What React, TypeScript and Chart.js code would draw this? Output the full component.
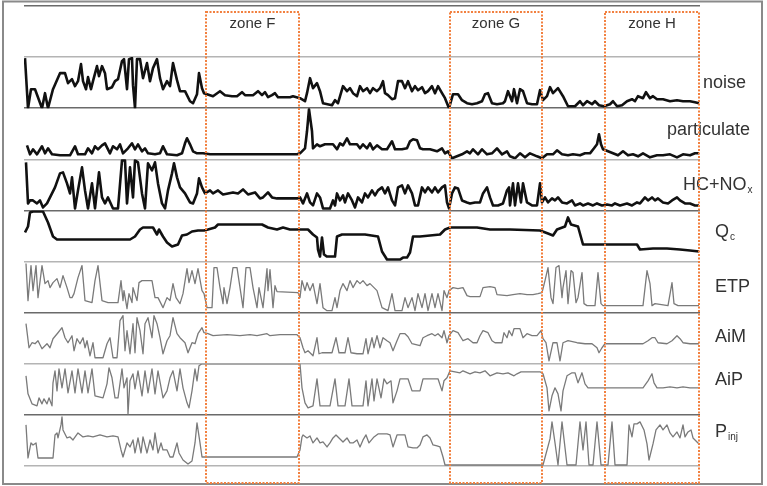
import { useEffect, useRef } from 'react';
import { Chart, registerables } from 'chart.js';

Chart.register(...registerables);

type P = [number, number];

// Row labels (main text + subscript)
const rowMain = ['noise', 'particulate', 'HC+NO', 'Q', 'ETP', 'AiM', 'AiP', 'P'];
const rowSub = ['', '', 'x', 'c', '', '', '', 'inj'];

// Zones along the time axis
const zoneNames = ['zone F', 'zone G', 'zone H'];
const zoneStart = [182, 426, 581];
const zoneEnd = [275, 518, 675];

const X_MAX = 676;
const ROW_MAX = 51;

const noise: P[] = [[1,50],[4,0],[7,19],[11,19],[18,0],[21,15],[24,0],[29,19],[36,35],[41,35],[44,25],[48,29],[51,22],[54,27],[57,44],[59,27],[62,19],[64,31],[67,19],[69,27],[73,42],[75,32],[78,42],[81,35],[83,19],[88,21],[91,27],[94,29],[98,47],[100,49],[103,19],[105,49],[108,50],[109,23],[111,0],[113,49],[116,49],[119,30],[123,45],[126,27],[129,40],[133,49],[136,30],[139,19],[143,27],[146,22],[149,45],[153,28],[156,17],[161,17],[166,7],[169,5],[173,14],[175,35],[178,20],[180,15],[183,14],[189,12],[196,17],[201,13],[208,12],[213,12],[218,16],[221,13],[229,13],[234,17],[238,13],[241,16],[244,11],[248,13],[251,15],[254,11],[266,11],[269,12],[276,10],[281,7],[283,15],[286,30],[289,20],[293,25],[296,17],[299,5],[308,3],[311,8],[314,5],[319,22],[323,17],[326,20],[329,15],[333,12],[336,22],[339,17],[343,20],[346,15],[349,20],[353,17],[356,20],[359,27],[361,15],[364,13],[368,9],[371,10],[374,27],[378,27],[381,20],[384,27],[388,17],[391,22],[394,18],[398,21],[401,15],[404,17],[408,22],[411,15],[414,22],[418,15],[421,10],[425,0],[429,14],[434,14],[438,8],[443,5],[448,4],[453,5],[458,7],[461,14],[464,15],[468,5],[473,4],[479,5],[481,7],[484,17],[488,7],[490,19],[493,5],[496,19],[499,17],[503,5],[508,4],[513,4],[516,18],[519,8],[523,12],[526,21],[529,15],[534,20],[539,12],[544,2],[551,2],[556,7],[559,3],[563,7],[568,4],[571,7],[575,3],[580,2],[586,4],[589,7],[593,2],[598,3],[603,7],[608,9],[611,7],[614,12],[619,10],[622,16],[626,10],[629,12],[633,9],[639,9],[646,7],[653,8],[659,7],[666,7],[671,6],[675,5]];

const particulate: P[] = [[3,14],[6,5],[9,10],[13,5],[18,13],[21,6],[24,11],[28,5],[36,4],[46,4],[51,13],[54,5],[61,5],[64,11],[68,6],[71,13],[74,10],[78,14],[81,16],[86,6],[89,13],[93,10],[96,15],[99,6],[104,11],[108,16],[111,10],[114,15],[118,8],[121,11],[124,6],[131,5],[136,6],[139,13],[143,5],[153,4],[158,6],[161,16],[163,21],[166,15],[169,8],[173,6],[179,6],[186,5],[200,5],[226,5],[259,5],[273,5],[276,6],[281,11],[283,28],[285,50],[288,28],[289,11],[293,15],[296,13],[301,15],[306,15],[309,15],[313,10],[316,16],[319,14],[323,21],[326,15],[333,15],[336,11],[339,15],[343,11],[346,16],[349,10],[353,14],[358,10],[363,10],[368,18],[371,10],[378,10],[383,11],[386,18],[389,20],[393,19],[396,11],[399,10],[406,10],[413,8],[418,11],[421,6],[424,8],[428,1],[433,3],[438,5],[443,8],[446,6],[449,10],[454,5],[458,10],[463,5],[468,6],[473,11],[478,5],[483,8],[486,3],[491,1],[496,6],[501,2],[506,6],[513,3],[518,1],[523,5],[529,5],[533,9],[538,5],[544,4],[549,5],[556,4],[561,6],[566,6],[570,11],[573,15],[575,25],[577,15],[579,10],[584,8],[589,6],[594,4],[599,8],[604,4],[609,5],[614,3],[619,6],[626,2],[633,4],[639,4],[646,5],[653,2],[659,5],[666,4],[671,6],[675,6]];

const hcnox: P[] = [[2,48],[4,7],[6,10],[9,10],[13,7],[16,10],[19,3],[23,7],[26,13],[31,23],[36,37],[39,38],[43,27],[46,17],[48,33],[51,2],[54,20],[58,43],[61,20],[64,2],[68,27],[71,2],[75,38],[78,13],[81,7],[84,13],[89,2],[94,2],[98,50],[101,50],[103,7],[106,43],[109,13],[111,50],[114,48],[118,17],[121,2],[124,47],[128,40],[131,48],[134,27],[138,7],[141,2],[144,20],[148,37],[150,47],[153,33],[156,23],[161,17],[166,8],[169,7],[173,17],[175,32],[178,23],[181,17],[186,20],[189,17],[194,20],[199,16],[204,17],[209,18],[214,17],[219,21],[224,16],[231,18],[236,12],[239,13],[244,18],[248,13],[253,12],[273,12],[276,13],[279,7],[283,17],[286,8],[289,5],[293,17],[296,13],[299,2],[306,2],[309,10],[311,5],[313,17],[316,10],[319,15],[321,8],[324,17],[328,10],[331,3],[334,13],[338,8],[341,17],[344,13],[348,20],[351,15],[354,20],[358,23],[361,17],[364,23],[368,10],[371,5],[374,23],[378,25],[381,17],[384,25],[388,17],[391,5],[394,5],[398,23],[401,18],[404,23],[408,18],[411,23],[414,18],[418,23],[421,25],[423,8],[425,2],[428,17],[431,23],[434,22],[438,10],[443,8],[446,7],[451,8],[456,8],[459,17],[463,23],[466,13],[469,5],[474,5],[479,7],[483,20],[485,23],[486,5],[489,27],[491,5],[494,27],[497,8],[499,27],[503,8],[508,5],[513,5],[516,27],[518,8],[521,13],[524,8],[528,12],[531,10],[534,13],[538,8],[543,7],[548,10],[551,5],[556,7],[559,5],[564,7],[569,5],[573,7],[578,5],[583,6],[588,5],[591,7],[596,5],[603,7],[608,5],[613,8],[616,7],[621,13],[624,10],[628,13],[631,10],[634,12],[639,8],[644,7],[648,10],[653,13],[656,10],[661,7],[666,7],[671,5],[675,5]];

const qc: P[] = [[1,29],[4,35],[6,49],[9,50],[19,50],[24,39],[29,25],[33,22],[106,22],[111,25],[116,32],[119,34],[129,34],[133,27],[135,32],[139,25],[143,19],[148,15],[154,17],[158,26],[163,27],[168,30],[174,31],[180,31],[184,32],[191,34],[194,37],[203,37],[238,37],[244,34],[253,32],[259,34],[266,32],[284,32],[289,27],[293,24],[294,12],[296,5],[298,24],[300,7],[303,5],[311,5],[313,25],[318,27],[341,27],[354,25],[358,10],[363,2],[376,2],[379,4],[383,4],[386,9],[389,25],[396,25],[416,27],[421,32],[426,34],[453,34],[466,32],[486,32],[516,31],[524,28],[529,26],[533,32],[541,35],[544,44],[547,37],[554,35],[559,17],[613,17],[616,12],[629,13],[643,13],[656,12],[666,11],[675,10]];

const etp: P[] = [[2,49],[4,12],[7,47],[9,22],[12,47],[14,15],[18,47],[21,29],[24,32],[26,25],[29,30],[33,34],[36,25],[39,37],[43,25],[46,15],[48,15],[50,19],[54,35],[58,47],[61,12],[68,10],[71,32],[74,47],[78,12],[84,10],[94,10],[97,32],[99,12],[100,22],[103,4],[105,19],[108,10],[109,25],[113,12],[115,30],[118,32],[123,32],[128,32],[131,15],[134,15],[139,5],[143,15],[146,12],[149,29],[152,15],[156,9],[159,19],[163,44],[165,30],[168,42],[171,29],[174,44],[178,22],[180,19],[183,5],[188,5],[190,45],[193,45],[196,25],[199,9],[200,25],[203,9],[206,25],[209,45],[213,45],[216,25],[219,5],[222,45],[226,45],[229,25],[233,5],[235,25],[239,5],[243,44],[244,22],[246,43],[249,5],[251,27],[253,21],[274,20],[276,15],[278,32],[281,22],[283,30],[286,22],[289,29],[293,9],[296,29],[299,5],[303,2],[308,2],[311,15],[313,5],[316,22],[319,29],[323,22],[326,32],[329,25],[333,32],[336,29],[339,32],[343,27],[346,29],[350,25],[353,22],[358,5],[364,2],[368,19],[371,2],[378,2],[381,15],[384,5],[388,15],[391,2],[394,19],[398,5],[401,19],[404,2],[408,19],[411,5],[414,19],[418,2],[420,22],[423,15],[425,22],[429,25],[434,24],[439,25],[443,17],[446,16],[456,16],[459,25],[466,26],[471,25],[473,18],[483,17],[489,18],[496,19],[503,18],[509,18],[514,19],[518,20],[521,32],[524,45],[527,15],[529,9],[532,45],[535,47],[538,15],[539,25],[542,42],[544,9],[547,42],[549,40],[552,10],[554,15],[558,40],[560,9],[563,7],[571,7],[574,40],[577,9],[579,7],[619,7],[623,42],[626,29],[628,7],[631,9],[644,7],[648,30],[650,9],[654,7],[675,7]];

const aim: P[] = [[2,40],[5,16],[8,21],[11,20],[14,23],[18,15],[19,16],[23,20],[26,16],[29,25],[34,31],[38,36],[41,26],[44,21],[48,28],[50,13],[53,25],[56,20],[59,26],[61,16],[63,23],[66,8],[69,21],[71,6],[79,6],[83,20],[86,26],[89,6],[93,6],[96,43],[99,48],[101,13],[103,33],[106,10],[109,40],[111,11],[113,46],[116,33],[119,10],[121,40],[124,46],[128,26],[130,48],[133,40],[136,26],[139,10],[143,23],[146,28],[149,46],[153,30],[156,26],[161,21],[164,11],[168,21],[171,20],[174,30],[178,36],[180,31],[184,30],[189,28],[203,29],[216,28],[226,29],[233,28],[243,30],[246,28],[256,29],[273,29],[276,26],[279,16],[281,11],[284,13],[289,8],[293,26],[295,10],[298,11],[308,11],[312,26],[315,11],[321,11],[324,26],[327,11],[333,10],[339,10],[342,25],[344,10],[348,26],[350,16],[353,28],[356,16],[359,26],[363,23],[366,21],[369,13],[373,23],[376,30],[381,30],[384,27],[388,20],[396,18],[399,26],[403,28],[408,30],[411,28],[414,30],[418,26],[420,33],[423,21],[425,28],[429,33],[434,31],[439,23],[444,25],[449,21],[453,21],[456,28],[459,33],[464,31],[468,23],[471,21],[478,21],[480,31],[483,26],[485,33],[488,28],[490,35],[496,35],[499,26],[503,30],[508,28],[513,28],[517,33],[519,25],[522,21],[525,3],[529,21],[533,21],[536,3],[539,21],[544,23],[553,21],[561,20],[568,20],[573,16],[575,11],[578,16],[581,20],[589,20],[619,20],[624,23],[628,26],[631,26],[634,21],[643,20],[648,23],[653,28],[656,25],[659,21],[666,20],[675,20]];

const aip: P[] = [[2,39],[4,21],[8,11],[13,9],[15,17],[18,11],[20,16],[23,11],[25,17],[28,9],[29,32],[31,44],[33,24],[35,46],[38,27],[41,46],[44,22],[48,44],[51,22],[54,46],[58,22],[61,44],[64,22],[68,46],[71,19],[79,17],[83,31],[85,47],[88,37],[91,17],[94,17],[98,46],[100,27],[103,37],[104,1],[106,34],[109,41],[111,26],[114,44],[118,19],[121,44],[124,22],[128,46],[131,21],[134,44],[139,17],[143,24],[146,37],[149,44],[153,24],[156,46],[159,27],[163,12],[165,7],[168,24],[171,46],[173,34],[175,49],[178,51],[183,51],[276,51],[278,27],[281,12],[284,7],[289,9],[293,36],[296,9],[306,9],[311,36],[314,9],[321,9],[325,36],[328,9],[339,9],[342,34],[344,9],[348,36],[350,14],[353,36],[357,17],[360,36],[363,31],[367,34],[369,12],[373,24],[376,36],[384,36],[388,24],[396,24],[399,36],[414,36],[418,24],[420,34],[423,37],[426,44],[431,43],[436,42],[439,44],[446,41],[451,43],[456,42],[461,44],[466,39],[473,42],[479,41],[484,42],[490,39],[493,41],[497,43],[516,43],[519,41],[523,27],[525,4],[528,19],[531,27],[534,21],[537,4],[539,24],[543,39],[548,42],[551,42],[554,32],[558,42],[561,31],[564,27],[573,27],[619,27],[624,34],[628,41],[630,32],[633,27],[639,27],[646,28],[653,27],[659,28],[666,27],[675,27]];

const pinj: P[] = [[2,41],[4,8],[7,23],[9,21],[12,23],[14,8],[29,8],[31,31],[33,33],[34,28],[37,41],[38,49],[39,36],[43,28],[46,29],[49,26],[54,33],[59,29],[64,30],[69,29],[76,31],[83,29],[89,30],[94,29],[97,16],[99,9],[103,23],[106,19],[109,26],[111,13],[114,28],[117,13],[119,29],[123,13],[126,26],[129,16],[131,33],[134,13],[137,23],[139,16],[143,16],[146,9],[149,9],[153,23],[155,13],[159,6],[164,2],[168,5],[171,23],[173,43],[176,23],[178,9],[189,9],[273,9],[276,16],[278,29],[279,31],[283,28],[286,30],[289,23],[293,28],[296,23],[299,24],[303,19],[306,23],[309,28],[312,31],[315,28],[319,24],[323,28],[326,23],[329,23],[333,26],[336,19],[339,26],[342,31],[345,23],[350,29],[354,32],[363,32],[366,31],[369,19],[373,31],[381,31],[384,19],[389,18],[393,18],[396,21],[399,29],[403,31],[406,28],[409,21],[413,20],[416,19],[419,9],[421,1],[519,1],[526,27],[528,44],[531,23],[534,1],[538,44],[543,1],[552,1],[556,44],[559,16],[562,44],[565,1],[569,1],[573,44],[577,1],[584,1],[588,44],[591,1],[603,1],[605,41],[608,29],[610,42],[613,42],[616,44],[620,36],[623,22],[625,6],[629,22],[632,36],[636,41],[639,36],[643,41],[646,33],[649,29],[653,34],[656,28],[659,41],[661,29],[664,34],[667,36],[669,28],[673,24],[675,22]];

const seriesList: P[][] = [noise, particulate, hcnox, qc, etp, aim, aip, pinj];

const FONT = '"Liberation Sans", Arial, Helvetica, sans-serif';
const labelDx = [3, -33, -17, 15, 15, 15, 15, 15];
const labelDy = [5, 1, 5, 1, 5, 4, -4, -3];

const overlay = {
  id: 'overlay',
  beforeDraw(chart: any) {
    const ctx = chart.ctx;
    ctx.save();
    ctx.fillStyle = '#ffffff';
    ctx.fillRect(0, 0, chart.width, chart.height);
    ctx.strokeStyle = '#8a8a8a';
    ctx.lineWidth = 2;
    ctx.strokeRect(3, 1.5, 759, 482.5);
    ctx.restore();
  },
  afterDatasetsDraw(chart: any) {
    const ctx = chart.ctx;
    const area = chart.chartArea;
    const xs = chart.scales.x;
    ctx.save();
    ctx.fillStyle = '#333333';
    ctx.textBaseline = 'alphabetic';
    ctx.textAlign = 'left';
    rowMain.forEach((m, i) => {
      const s = chart.scales['r' + (i + 1)];
      const mid = (s.top + s.bottom) / 2;
      let x = area.right + labelDx[i];
      const y = mid + labelDy[i];
      ctx.font = '18px ' + FONT;
      ctx.fillText(m, x, y);
      if (rowSub[i]) {
        x += ctx.measureText(m).width + 1;
        ctx.font = '10px ' + FONT;
        ctx.fillText(rowSub[i], x, y + 3);
      }
    });
    ctx.strokeStyle = '#f2803f';
    ctx.lineWidth = 2;
    ctx.setLineDash([2, 1.5]);
    ctx.textAlign = 'center';
    zoneNames.forEach((z, i) => {
      const x0 = xs.getPixelForValue(zoneStart[i]);
      const x1 = xs.getPixelForValue(zoneEnd[i]);
      const top = area.top + 6;
      const bottom = area.bottom + 17;
      ctx.strokeRect(x0, top, x1 - x0, bottom - top);
      ctx.font = '15px ' + FONT;
      ctx.fillStyle = '#333333';
      ctx.fillText(z, (x0 + x1) / 2, area.top + 22);
    });
    ctx.restore();
  },
};

function lineColor(k: number) {
  return k % 2 === 0 ? '#6a6a6a' : '#b4b4b4';
}

function rowScale(i: number) {
  return {
    type: 'linear',
    position: 'right',
    stack: 'rows',
    stackWeight: 1,
    min: 0,
    max: ROW_MAX,
    afterBuildTicks: (s: any) => {
      s.ticks = [{ value: 0 }, { value: ROW_MAX }];
    },
    ticks: { display: false },
    border: { display: false },
    grid: {
      drawTicks: false,
      lineWidth: 1.6,
      color: (c: any) => {
        const v = c.tick ? c.tick.value : 0;
        if (v === ROW_MAX) return lineColor(i);
        return i === 8 ? lineColor(9) : 'rgba(0,0,0,0)';
      },
    },
  };
}

export default function App() {
  const ref = useRef<HTMLCanvasElement | null>(null);
  useEffect(() => {
    if (!ref.current) return;
    const scales: any = {
      x: { type: 'linear', min: 0, max: X_MAX, display: false },
    };
    for (let i = 0; i <= 8; i++) scales['r' + i] = rowScale(i);
    const datasets = seriesList.map((pts, i) => ({
      label: rowMain[i] + rowSub[i],
      data: pts.map(([x, y]) => ({ x, y })),
      yAxisID: 'r' + (i + 1),
      borderColor: i < 4 ? '#111111' : '#7a7a7a',
      borderWidth: i < 4 ? 2.6 : 1.3,
      pointRadius: 0,
      fill: false,
      tension: 0,
      borderJoinStyle: 'round',
    }));
    const chart = new Chart(ref.current, {
      type: 'line',
      data: { datasets } as any,
      options: {
        animation: false,
        responsive: false,
        devicePixelRatio: 1,
        events: [],
        layout: { padding: { left: 24, right: 67, top: 6, bottom: 20 } },
        plugins: { legend: { display: false }, tooltip: { enabled: false } },
        scales,
      } as any,
      plugins: [overlay],
    });
    return () => chart.destroy();
  }, []);
  return (
    <div style={{ position: 'absolute', left: 0, top: 0, width: 767, height: 486, background: '#fff' }}>
      <canvas ref={ref} width={767} height={486} style={{ display: 'block' }} />
    </div>
  );
}
